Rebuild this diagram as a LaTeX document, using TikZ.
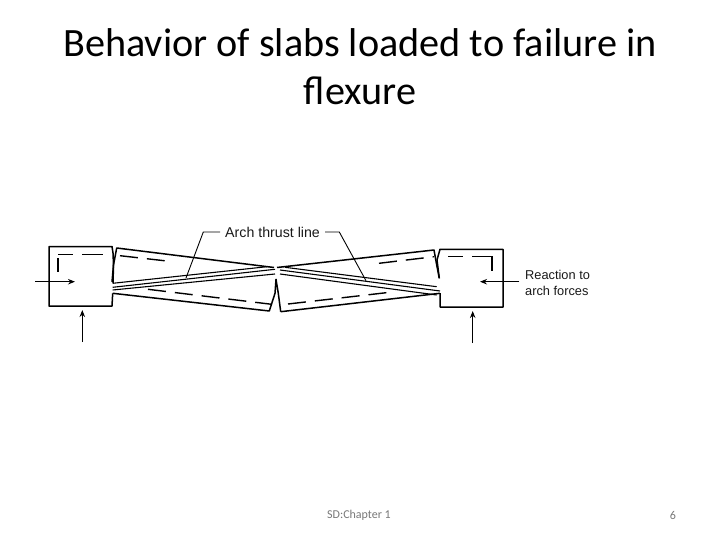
\documentclass[tikz,border=0pt]{standalone}
\usepackage{fontspec}
\usetikzlibrary{arrows.meta}
\setmainfont{Carlito}
\newfontfamily\labelfont{Liberation Sans}
\definecolor{footgray}{HTML}{777777}
\tikzset{
    slab/.style={line width=1.5pt, line join=round},
    thrust/.style={line width=1.1pt},
    steel/.style={line width=1.4pt, dash pattern=on 18pt off 9pt},
    blockbar/.style={line width=1.4pt},
    force/.style={line width=1pt, -{Stealth[length=7pt,width=5.5pt]}},
    leader/.style={line width=0.9pt},
    drawlabel/.style={font=\labelfont, inner sep=5pt, align=left, text=black!90},
    footer/.style={font=\fontsize{12}{14}\selectfont, text=footgray, inner sep=0pt}
}
\begin{document}
\begin{tikzpicture}[x=1pt, y=-1pt]
        \useasboundingbox (0,0) rectangle (720,540);

        % Title and footer
        \node[font=\fontsize{40.2}{48}\selectfont, align=center, inner sep=0pt] (title) at (360,67) {Behavior of slabs loaded to failure in\\flexure};
        \node[footer] (chapter) at (359,515) {SD:Chapter 1};
        \node[footer] (pagenum) at (673,515) {6};

        % Left support block
        \draw[slab] (112.7,293.3) -- (112,306) -- (49,306) -- (49,246.5) -- (112,246.5)
            -- (113,253) -- (113.5,265) -- (112,282);
        % Right support block
        \draw[slab] (440,293) -- (440,307) -- (503,307) -- (503,249.3) -- (440,249.3)
            -- (437,260) -- (439.3,278.3);

        % Left slab outline
        \draw[slab] (113,283) -- (113.5,265) -- (116.7,248) -- (274,267.5);
        \draw[slab] (112.7,293.3) -- (269.3,311) -- (275,293.3) -- (276,279.3)
            -- (278.3,293.3) -- (280.7,311.7);
        % Right slab outline
        \draw[slab] (277,267.5) -- (434,250) -- (436.7,265) -- (439.3,278.3);
        \draw[slab] (280.7,311.7) -- (440,293.3);

        % Arch thrust lines
        \draw[thrust] (112.7,283.3) -- (267,266.7);
        \draw[thrust] (112.7,287.3) -- (275,269.3);
        \draw[thrust] (112.7,290) -- (275,274);
        \draw[thrust] (285,267.3) -- (436.7,286.7);
        \draw[thrust] (280,270) -- (440,291);
        \draw[thrust] (280,274) -- (436.7,295);

        % Reinforcement in the blocks
        \draw[blockbar] (58.3,254.3) -- (73,254.3);
        \draw[blockbar] (82,254.3) -- (103,254.3);
        \draw[blockbar] (58,258) -- (58,272);
        \draw[blockbar] (448,256.7) -- (463,256.7);
        \draw[blockbar] (472,256.7) -- (492,256.7) -- (492,271);
        % Reinforcement in the slabs
        \draw[steel] (120,255.7) -- (173,261.7);
        \draw[steel] (148,289.3) -- (271.7,304.3);
        \draw[steel] (288,304) -- (395,291.7);
        \draw[steel] (379,263.3) -- (434,256.7);

        % Labels
        \node[drawlabel, anchor=west, font=\labelfont\fontsize{14.2}{16}\selectfont] (archlabel) at (220,232) {Arch thrust line};
        \node[drawlabel, anchor=west, font=\labelfont\fontsize{12.8}{16}\selectfont] (reaction) at (520,283) {Reaction to\\arch forces};

        % Leader lines to the thrust lines
        \coordinate (leftthrust) at (186,278);
        \coordinate (rightthrust) at (366,280.7);
        \draw[leader] (archlabel.west) -- (203.3,232) -- (leftthrust);
        \draw[leader] (archlabel.east) -- (339.3,232) -- (rightthrust);

        % Forces on the blocks
        \coordinate (leftin) at (35,281.7);
        \coordinate (lefttip) at (75,281.7);
        \coordinate (rightin) at (519.3,281.7);
        \coordinate (righttip) at (480,281.7);
        \coordinate (leftup) at (82.3,342);
        \coordinate (leftbase) at (82.3,310);
        \coordinate (rightup) at (472.7,343);
        \coordinate (rightbase) at (472.7,311);
        \draw[force] (leftin) -- (lefttip);
        \draw[force] (rightin) -- (righttip);
        \draw[force] (leftup) -- (leftbase);
        \draw[force] (rightup) -- (rightbase);
    \end{tikzpicture}
\end{document}
